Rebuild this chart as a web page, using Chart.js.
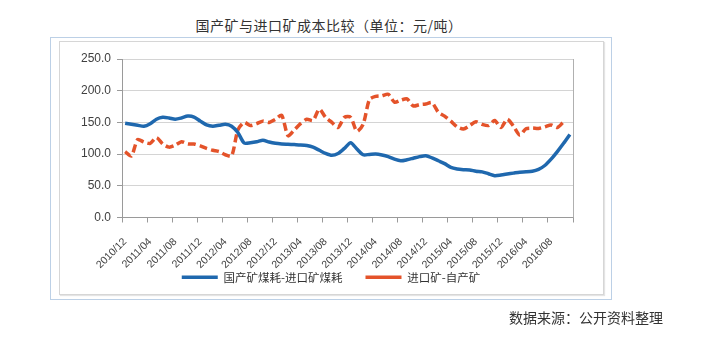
<!DOCTYPE html>
<html>
<head>
<meta charset="utf-8">
<script src="https://cdn.jsdelivr.net/npm/chart.js@4/dist/chart.umd.min.js"></script>
<style>
  html, body { margin: 0; padding: 0; background: #fff; }
  #wrap { position: relative; width: 718px; height: 344px; overflow: hidden; }
  .txt { position: absolute; font-family: "Noto Sans CJK SC", sans-serif; font-size: 14px; color: #333; white-space: nowrap; line-height: 20px; }
  #title { left: 0; width: 658px; top: 15px; text-align: center; letter-spacing: 0.5px; }
  #source { left: 509px; top: 307px; }
  #outer { position: absolute; left: 50px; top: 37px; width: 560px; height: 261px; border: 1px solid #bcd0e6; }
  #inner { position: absolute; left: 59px; top: 41px; width: 543px; height: 252px; border: 1px solid #d6d6d6; box-shadow: 1px 1px 1px #e4e4e4; }
  canvas { position: absolute; left: 0; top: 0; }
</style>
</head>
<body>
<div id="wrap">
  <div id="title" class="txt">国产矿与进口矿成本比较（单位：元/吨）</div>
  <div id="outer"></div>
  <div id="inner"></div>
  <canvas id="c" width="718" height="344"></canvas>
  <div id="source" class="txt">数据来源：公开资料整理</div>
</div>
<script>
// shown every 4 months, data is monthly from 2010/12
const tickLabels = ["2010/12", "2011/04", "2011/08", "2011/12", "2012/04", "2012/08",
  "2012/12", "2013/04", "2013/08", "2013/12", "2014/04", "2014/08",
  "2014/12", "2015/04", "2015/08", "2015/12", "2016/04", "2016/08"];

const months = [];
for (let i = 0; i < 72; i++) {
  const m = 12 + i;
  const y = 2010 + Math.floor((m - 1) / 12);
  const mm = ((m - 1) % 12) + 1;
  months.push(y + "/" + String(mm).padStart(2, "0"));
}

// 国产矿煤耗-进口矿煤耗
const domesticMinusImport = [
  148.5, 147, 145.5, 144, 148, 155, 158, 157, 155, 157, 160, 158.5,
  152, 146, 144, 145.5, 147, 144, 134, 117.5, 118, 119.5, 122, 119,
  117, 116, 115.5, 115, 114.5, 113.5, 111, 106, 101, 98, 101, 109,
  118, 108, 99, 99.5, 100, 98.5, 96, 92, 89.5, 91, 93.5, 96,
  97.5, 94, 89.5, 85, 79, 76.5, 75.5, 75, 73, 72, 69, 66,
  67, 68.5, 70, 71.5, 72, 73, 76, 82, 92, 104, 117, 131
];

// 进口矿-自产矿
const importMinusOwn = [
  104, 97, 123, 119, 117, 126, 116, 111, 114, 119.5, 116, 116,
  113, 109, 106, 104, 99, 97, 138, 150, 145, 148, 152, 150,
  155, 161, 129, 138, 148, 155, 153, 171, 158, 150, 142, 158,
  158, 136, 147, 186, 191, 192, 194.5, 182, 185, 187, 176, 178,
  179, 181, 166, 160, 152, 143, 139.5, 145, 151, 147, 145, 153,
  142, 155, 144, 130, 140, 141, 140.5, 143, 146, 142, 151, null
];

const yTicks = [0, 50, 100, 150, 200, 250];

const BLUE = "#1f68ae";
const ORANGE = "#e4532a";

new Chart(document.getElementById("c"), {
  type: "line",
  data: {
    labels: months,
    datasets: [
      {
        label: "国产矿煤耗-进口矿煤耗",
        data: domesticMinusImport,
        borderColor: BLUE,
        backgroundColor: BLUE,
        borderWidth: 3.5,
        pointRadius: 0,
        tension: 0.25,
        fill: false
      },
      {
        label: "进口矿-自产矿",
        data: importMinusOwn,
        borderColor: ORANGE,
        backgroundColor: ORANGE,
        borderWidth: 3.5,
        borderDash: [8, 4],
        pointRadius: 0,
        tension: 0.25,
        fill: false
      }
    ]
  },
  options: {
    responsive: false,
    animation: false,
    layout: { padding: { left: 50, right: 106, top: 59, bottom: 51 } },
    plugins: {
      tooltip: { enabled: false },
      legend: {
        position: "bottom",
        labels: {
          usePointStyle: true,
          pointStyle: "line",
          pointStyleWidth: 36,
          padding: 0,
          color: "#333",
          font: { family: "Noto Sans CJK SC", size: 11.5 },
          generateLabels: chart => {
            const items = Chart.defaults.plugins.legend.labels.generateLabels(chart);
            // gap between the two entries
            items[0].text = items[0].text + "\u3000\u3000";
            return items;
          }
        }
      }
    },
    scales: {
      x: {
        type: "category",
        offset: true,
        afterFit: s => { s.height = 54; },
        grid: {
          offset: true,
          drawOnChartArea: false,
          tickLength: 5,
          color: ctx => (ctx.type === "scale" || ctx.index % 4 === 0) ? "#9a9a9a" : "rgba(0,0,0,0)"
        },
        border: { color: "#9a9a9a" },
        ticks: {
          autoSkip: false,
          maxRotation: 45,
          minRotation: 45,
          padding: 13,
          color: "#404040",
          font: { family: "Liberation Sans", size: 10.5 },
          callback: function (v) {
            const lab = this.getLabelForValue(v);
            return tickLabels.includes(lab) ? lab : "";
          }
        }
      },
      y: {
        min: 0,
        max: 250,
        afterFit: s => { s.width = 72; },
        afterBuildTicks: s => { s.ticks = yTicks.map(v => ({ value: v })); },
        grid: { color: "#d4d4d4", tickLength: 5, tickColor: "#9a9a9a" },
        border: { color: "#9a9a9a" },
        ticks: {
          padding: 6,
          color: "#404040",
          font: { family: "Liberation Sans", size: 12 },
          callback: v => v.toFixed(1)
        }
      },
      y2: {
        position: "right",
        afterFit: s => { s.width = 39; },
        ticks: { display: false },
        grid: { display: false },
        border: { display: false }
      }
    }
  },
  plugins: [{
    id: "plotFrame",
    afterDraw(chart) {
      const { ctx, chartArea: a } = chart;
      ctx.save();
      ctx.strokeStyle = "#b0b0b0";
      ctx.lineWidth = 1;
      ctx.beginPath();
      ctx.moveTo(a.right + 0.5, a.top);
      ctx.lineTo(a.right + 0.5, a.bottom);
      ctx.stroke();
      ctx.restore();
    }
  }]
});
</script>
</body>
</html>
